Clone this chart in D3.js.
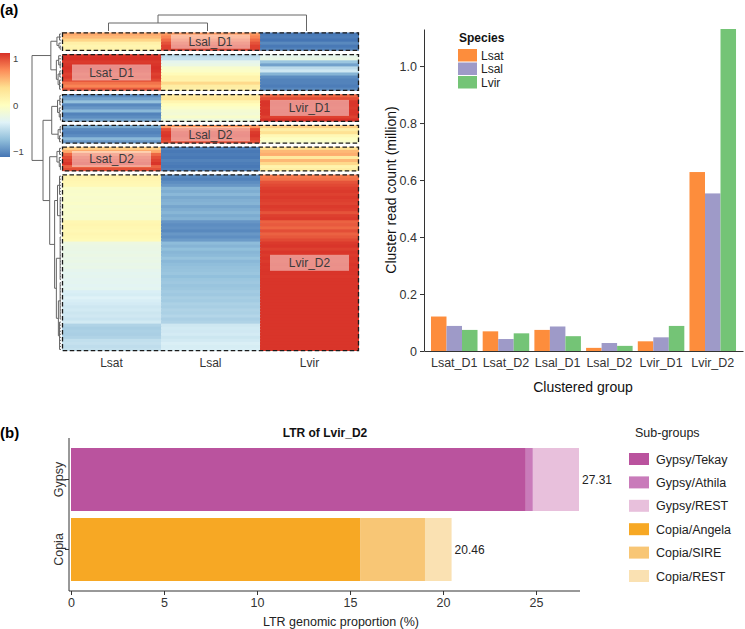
<!DOCTYPE html>
<html><head><meta charset="utf-8">
<script src="https://cdn.jsdelivr.net/npm/d3@7"></script>
<style>body{margin:0;background:#fff;} svg{font-family:"Liberation Sans",Arial,Helvetica,sans-serif;}</style>
</head><body><svg id="c" width="745" height="629"></svg>
<script>
// ---------------- DATA ----------------
const species = ["Lsat", "Lsal", "Lvir"];
const clusterNames = ["Lsal_D1", "Lsat_D1", "Lvir_D1", "Lsal_D2", "Lsat_D2", "Lvir_D2"];
const clusterLabelColumn = ["Lsal", "Lsat", "Lvir", "Lsal", "Lsat", "Lvir"];
const heatTicks = [1, 0, -1];

// z-scored rows, columns = [Lsat, Lsal, Lvir]
const rowsLsalD1 = [
  [0.62, 0.70, -1.10], [0.55, 0.78, -1.08], [0.42, 0.88, -1.12],
  [0.18, 0.98, -1.02], [0.12, 1.05, -1.10], [0.15, 1.05, -1.05]
];
const rowsLsatD1 = [
  [1.10, -0.55, -0.30], [1.12, -0.50, -0.25], [1.08, -0.30, -0.70], [1.10, -0.25, -0.90],
  [1.12, -0.10, -0.55], [1.10, -0.05, -0.45], [1.05, 0.05, -0.80], [1.08, 0.15, -1.00],
  [1.02, 0.15, -1.05], [0.85, 0.40, -1.05], [0.78, 0.22, -1.08], [0.95, 0.18, -1.02]
];
const rowsLvirD1 = [
  [-1.00, 0.25, 0.90], [-0.90, 0.30, 1.00], [-0.72, 0.12, 1.10], [-1.02, 0.02, 1.10],
  [-0.95, -0.05, 1.08], [-0.78, -0.12, 1.10], [-1.05, -0.15, 1.10], [-1.00, -0.08, 1.05],
  [-0.88, -0.20, 1.12]
];
const rowsLsalD2 = [
  [-0.85, 0.70, 0.45], [-1.02, 1.00, 0.20], [-1.05, 1.08, 0.35],
  [-1.00, 1.10, 0.08], [-0.78, 1.05, -0.02], [-0.95, 1.00, -0.08]
];
const rowsLsatD2 = [
  [0.45, -1.05, 0.35], [0.62, -1.10, 0.55], [0.90, -1.08, 0.60], [1.00, -1.10, 0.25],
  [1.05, -1.05, 0.55], [1.10, -1.08, 0.40], [0.92, -1.10, 0.15], [1.00, -1.06, 0.22]
];
const rowsLvirD2 = [
  [0.14, -1.02, 0.82], [0.12, -1.06, 0.86], [0.10, -1.00, 0.98], [0.08, -0.95, 1.02],
  [-0.06, -0.80, 1.06], [-0.08, -0.84, 1.08], [-0.07, -0.78, 1.05], [-0.09, -0.86, 1.08],
  [-0.08, -0.82, 1.06], [-0.06, -0.80, 1.04], [-0.10, -0.88, 1.08], [-0.08, -0.83, 1.06],
  [-0.07, -0.79, 0.98], [-0.09, -0.85, 1.06], [-0.08, -0.81, 1.08],
  [0.10, -0.96, 0.92], [0.12, -1.00, 0.95], [0.10, -0.98, 0.90], [0.08, -1.02, 1.00],
  [0.11, -0.95, 0.92], [0.09, -0.99, 0.96], [0.06, -0.93, 1.02],
  [-0.22, -0.76, 1.08], [-0.24, -0.80, 1.10], [-0.25, -0.74, 1.06], [-0.26, -0.79, 1.10],
  [-0.24, -0.77, 1.08], [-0.27, -0.72, 1.10], [-0.25, -0.78, 1.08], [-0.28, -0.75, 1.10],
  [-0.26, -0.73, 1.09],
  [-0.30, -0.72, 1.10], [-0.32, -0.70, 1.10], [-0.31, -0.74, 1.09], [-0.33, -0.70, 1.10],
  [-0.32, -0.68, 1.10], [-0.34, -0.71, 1.10], [-0.32, -0.69, 1.10],
  [-0.40, -0.66, 1.10], [-0.42, -0.68, 1.10], [-0.38, -0.64, 1.10], [-0.41, -0.66, 1.10],
  [-0.43, -0.62, 1.10],
  [-0.46, -0.64, 1.10], [-0.44, -0.60, 1.10], [-0.47, -0.62, 1.10], [-0.45, -0.58, 1.10],
  [-0.48, -0.63, 1.10], [-0.44, -0.60, 1.10],
  [-0.60, -0.46, 1.10], [-0.64, -0.44, 1.10], [-0.62, -0.45, 1.10], [-0.63, -0.43, 1.10],
  [-0.60, -0.47, 1.10],
  [-0.52, -0.44, 1.10], [-0.50, -0.40, 1.10], [-0.53, -0.42, 1.10], [-0.51, -0.41, 1.10]
];
const clusterRows = [rowsLsalD1, rowsLsatD1, rowsLvirD1, rowsLsalD2, rowsLsatD2, rowsLvirD2];

// row dendrogram (leaves = row index, h = merge height)
const rowTree = {h: 10, c: [
  {h: 3.5, c: [
    {h: 1.4, c: [{h: 0.5, c: [0, 1, 2]}, {h: 0.7, c: [3, {h: 0.3, c: [4, 5]}]}]},
    {h: 1.6, c: [{h: 0.8, c: [6, 7, {h: 0.3, c: [8, 9, 10]}]}, {h: 1.0, c: [{h: 0.4, c: [11, 12, 13]}, {h: 0.5, c: [14, 15, 16, 17]}]}]}
  ]},
  {h: 6.2, c: [
    {h: 3.2, c: [
      {h: 1.2, c: [{h: 0.4, c: [18, 19, 20, 21]}, {h: 0.6, c: [22, 23, {h: 0.2, c: [24, 25, 26]}]}]},
      {h: 1.0, c: [{h: 0.3, c: [27, 28, 29]}, {h: 0.5, c: [30, 31, 32]}]}
    ]},
    {h: 3.9, c: [
      {h: 1.4, c: [{h: 0.5, c: [33, 34, 35]}, {h: 0.6, c: [36, 37, {h: 0.2, c: [38, 39, 40]}]}]},
      {h: 2.2, c: [
        {h: 1.2, c: [{h: 0.5, c: [41, 42, 43, 44, 45, 46, 47]},
                     {h: 0.3, c: [48, 49, 50, 51, 52, 53, 54, 55, 56, 57, 58, 59, 60]}]},
        {h: 1.6, c: [{h: 0.3, c: [61, 62, 63, 64, 65, 66, 67, 68, 69, 70, 71, 72, 73, 74, 75]},
                     {h: 0.9, c: [{h: 0.3, c: [76, 77, 78, 79, 80, 81, 82, 83, 84, 85, 86, 87, 88]},
                                  {h: 0.5, c: [89, 90, 91, 92, 93, 94, 95, 96, 97, 98]}]}]}
      ]}
    ]}
  ]}
]};
const colTree = {h: 2, c: [{h: 1, c: [0, 1]}, 2]};

// bar chart
const groups = ["Lsat_D1", "Lsat_D2", "Lsal_D1", "Lsal_D2", "Lvir_D1", "Lvir_D2"];
const countLsat = [0.121, 0.069, 0.074, 0.011, 0.034, 0.628];
const countLsal = [0.088, 0.042, 0.086, 0.028, 0.048, 0.553];
const countLvir = [0.074, 0.062, 0.052, 0.018, 0.088, 1.130];
const countTicks = [0, 0.2, 0.4, 0.6, 0.8, 1.0];
const speciesColors = ["#FD8D3C", "#9E9AC8", "#74C476"];

// LTR chart
const ltrFamilies = ["Gypsy", "Copia"];
const subGroups = ["Gypsy/Tekay", "Gypsy/Athila", "Gypsy/REST", "Copia/Angela", "Copia/SIRE", "Copia/REST"];
const subGroupFamily = ["Gypsy", "Gypsy", "Gypsy", "Copia", "Copia", "Copia"];
const subGroupValues = [24.45, 0.38, 2.48, 15.54, 3.49, 1.43];
const subGroupColors = ["#BA539E", "#C97BBA", "#E8C0DC", "#F7A824", "#F8C675", "#FAE1B2"];
const ltrTicks = [0, 5, 10, 15, 20, 25];

// ---------------- DRAW ----------------
const svg = d3.select("#c");
const txt = "#333333";

svg.append("text").attr("x", 0).attr("y", 15).attr("font-size", 15).attr("font-weight", "bold").text("(a)");
svg.append("text").attr("x", 0).attr("y", 438).attr("font-size", 15).attr("font-weight", "bold").text("(b)");

// ---- heatmap ----
const heatPalette = ["#4575B4", "#91BFDB", "#E0F3F8", "#FFFFBF", "#FEE090", "#FC8D59", "#D73027"];
const heatMin = -1.12, heatMax = 1.12;
const heatColor = d3.scaleLinear()
  .domain(heatPalette.map((_, i) => heatMin + i * (heatMax - heatMin) / (heatPalette.length - 1)))
  .range(heatPalette);

const hmX = d3.scaleBand().domain(species).range([62, 359]);
const nRows = d3.sum(clusterRows, r => r.length);
const gap = 3.5;
const rowY = d3.scaleLinear().domain([0, nRows]).range([32.5, 351 - gap * (clusterRows.length - 1)]);
const rh = rowY(1) - rowY(0);

const rowInfo = [];
let idx = 0;
clusterRows.forEach((rows, ci) => {
  rows.forEach((vals, k) => { rowInfo.push({i: idx, ci, vals, last: k === rows.length - 1}); idx++; });
});
const yOfRow = r => rowY(r.i) + gap * r.ci;

const hm = svg.append("g");
rowInfo.forEach(r => {
  species.forEach((sp, j) => {
    hm.append("rect")
      .attr("x", hmX(sp)).attr("y", yOfRow(r))
      .attr("width", hmX.bandwidth() + (j < 2 ? 0.8 : 0)).attr("height", rh + (r.last ? 0 : 1))
      .attr("fill", heatColor(r.vals[j]));
  });
});

let start = 0;
clusterRows.forEach((rows, ci) => {
  const y0 = rowY(start) + gap * ci;
  const y1 = rowY(start + rows.length) + gap * ci;
  start += rows.length;
  const cy = (y0 + y1) / 2;
  const col = clusterLabelColumn[ci];
  const bh = Math.min(16, y1 - y0 - 4);
  hm.append("rect").attr("x", hmX(col) + 10).attr("y", cy - bh / 2)
    .attr("width", hmX.bandwidth() - 20).attr("height", bh)
    .attr("fill", "#ffffff").attr("fill-opacity", 0.45);
  hm.append("text").attr("x", hmX(col) + hmX.bandwidth() / 2).attr("y", cy + 4.3)
    .attr("text-anchor", "middle").attr("font-size", 12).attr("fill", "#3a3a3a")
    .text(clusterNames[ci]);
  hm.append("rect").attr("x", 62.5).attr("y", y0 + 0.3)
    .attr("width", 296).attr("height", y1 - y0 - 0.6)
    .attr("fill", "none").attr("stroke", "#1a1a1a").attr("stroke-width", 1.3)
    .attr("stroke-dasharray", "4.5 2.5");
});

species.forEach(sp => {
  svg.append("text").attr("x", hmX(sp) + hmX.bandwidth() / 2).attr("y", 367)
    .attr("text-anchor", "middle").attr("font-size", 12).attr("fill", txt).text(sp);
});

const dendX = d3.scaleLinear().domain([0, 10]).range([61, 32]);
const dend = svg.append("g").attr("stroke", "#666").attr("stroke-width", 1).attr("fill", "none");
function drawRow(node) {
  if (typeof node === "number") return {y: yOfRow(rowInfo[node]) + rh / 2, h: 0};
  const kids = node.c.map(drawRow);
  const ys = kids.map(k => k.y);
  const x = dendX(node.h);
  dend.append("line").attr("x1", x).attr("x2", x).attr("y1", d3.min(ys)).attr("y2", d3.max(ys));
  kids.forEach(k => dend.append("line").attr("x1", x).attr("x2", dendX(k.h)).attr("y1", k.y).attr("y2", k.y));
  return {y: (d3.min(ys) + d3.max(ys)) / 2, h: node.h};
}
drawRow(rowTree);

const dendY = d3.scaleLinear().domain([0, 2]).range([31, 15]);
function drawCol(node) {
  if (typeof node === "number") return {x: hmX(species[node]) + hmX.bandwidth() / 2 - 3, h: 0};
  const kids = node.c.map(drawCol);
  const xs = kids.map(k => k.x);
  const y = dendY(node.h);
  dend.append("line").attr("y1", y).attr("y2", y).attr("x1", d3.min(xs)).attr("x2", d3.max(xs));
  kids.forEach(k => dend.append("line").attr("y1", y).attr("y2", dendY(k.h)).attr("x1", k.x).attr("x2", k.x));
  return {x: (d3.min(xs) + d3.max(xs)) / 2, h: node.h};
}
drawCol(colTree);

const legY = d3.scaleLinear().domain([heatMin, heatMax]).range([157, 53]);
const defs = svg.append("defs");
const grad = defs.append("linearGradient").attr("id", "hg").attr("x1", 0).attr("x2", 0).attr("y1", 1).attr("y2", 0);
heatColor.domain().forEach(v => {
  grad.append("stop").attr("offset", (v - heatMin) / (heatMax - heatMin)).attr("stop-color", heatColor(v));
});
svg.append("rect").attr("x", 0).attr("y", legY(heatMax)).attr("width", 10)
  .attr("height", legY(heatMin) - legY(heatMax)).attr("fill", "url(#hg)");
heatTicks.forEach(t => {
  svg.append("text").attr("x", 13).attr("y", legY(t) + 3.5).attr("font-size", 9.5)
    .attr("fill", "#444").text(t === -1 ? "\u22121" : t);
});

// ---- bar chart ----
const gx = d3.scaleBand().domain(groups).range([424, 743]).paddingInner(0.1).paddingOuter(0.135);
const gsub = d3.scaleBand().domain(species).range([0, gx.bandwidth()]);
const gy = d3.scaleLinear().domain([0, 1.13]).range([351, 29]);
const seriesCounts = [countLsat, countLsal, countLvir];
const bars = svg.append("g");
groups.forEach((g, gi) => {
  species.forEach((sp, si) => {
    const v = seriesCounts[si][gi];
    bars.append("rect").attr("x", gx(g) + gsub(sp)).attr("y", gy(v))
      .attr("width", gsub.bandwidth()).attr("height", gy(0) - gy(v))
      .attr("fill", speciesColors[si]);
  });
});
const yAx = svg.append("g").attr("transform", "translate(424,0)")
  .call(d3.axisLeft(gy).tickValues(countTicks).tickSize(4).tickSizeOuter(0)
    .tickFormat(d => d === 0 ? "0" : d3.format(".1f")(d)));
const xAx = svg.append("g").attr("transform", "translate(0,351)")
  .call(d3.axisBottom(gx).tickSize(0).tickSizeOuter(0).tickPadding(7));
[yAx, xAx].forEach(a => {
  a.selectAll("text").attr("font-size", 12.5).attr("fill", txt).attr("font-family", null);
  a.selectAll("line,path").attr("stroke", "#333");
});
svg.append("text").attr("transform", "translate(396,190) rotate(-90)").attr("text-anchor", "middle")
  .attr("font-size", 14).attr("fill", "#111").text("Cluster read count (million)");
svg.append("text").attr("x", 583).attr("y", 392).attr("text-anchor", "middle")
  .attr("font-size", 14).attr("fill", "#111").text("Clustered group");
svg.append("text").attr("x", 459).attr("y", 42).attr("font-size", 12).attr("font-weight", "bold")
  .attr("fill", "#111").text("Species");
species.forEach((sp, i) => {
  svg.append("rect").attr("x", 458).attr("y", 49 + i * 13.5).attr("width", 19).attr("height", 12.5)
    .attr("fill", speciesColors[i]);
  svg.append("text").attr("x", 481).attr("y", 49 + i * 13.5 + 10.5).attr("font-size", 12)
    .attr("fill", "#222").text(sp);
});

// ---- LTR chart ----
const lx = d3.scaleLinear().domain([0, 27.31]).range([71, 579]);
const ly = d3.scaleBand().domain(ltrFamilies).range([438, 591]).paddingInner(0.1).paddingOuter(0.143);
const stackRows = ltrFamilies.map(f => {
  const o = {family: f};
  subGroups.forEach((s, i) => { o[s] = subGroupFamily[i] === f ? subGroupValues[i] : 0; });
  return o;
});
const stacked = d3.stack().keys(subGroups)(stackRows);
const lg = svg.append("g");
stacked.forEach((layer, li) => {
  layer.forEach(seg => {
    if (seg[1] - seg[0] <= 0) return;
    lg.append("rect").attr("x", lx(seg[0])).attr("y", ly(seg.data.family))
      .attr("width", lx(seg[1]) - lx(seg[0])).attr("height", ly.bandwidth())
      .attr("fill", subGroupColors[li]);
  });
});
ltrFamilies.forEach(f => {
  const tot = d3.sum(subGroupValues.filter((v, i) => subGroupFamily[i] === f));
  svg.append("text").attr("x", lx(tot) + 3).attr("y", ly(f) + ly.bandwidth() / 2 + 4.3)
    .attr("font-size", 12).attr("fill", "#222").text(d3.format(".2f")(tot));
});
const lxAx = svg.append("g").attr("transform", "translate(0,591)")
  .call(d3.axisBottom(lx).tickValues(ltrTicks).tickSize(4).tickSizeOuter(0).tickPadding(3));
lxAx.select(".domain").remove();
const lyAx = svg.append("g").attr("transform", "translate(69,0)")
  .call(d3.axisLeft(ly).tickSize(4).tickSizeOuter(0));
lyAx.select(".domain").remove();
lyAx.selectAll("text").attr("transform", "translate(-3,0) rotate(-90)").attr("text-anchor", "middle")
  .attr("x", 0).attr("dy", "-0.25em");
[lxAx, lyAx].forEach(a => {
  a.selectAll("text").attr("font-size", 12.5).attr("fill", txt).attr("font-family", null);
  a.selectAll("line").attr("stroke", "#333");
});
svg.append("line").attr("x1", 69).attr("x2", 580).attr("y1", 591).attr("y2", 591).attr("stroke", "#333");
svg.append("line").attr("x1", 69).attr("x2", 69).attr("y1", 438).attr("y2", 591).attr("stroke", "#333");
svg.append("text").attr("x", 325).attr("y", 437).attr("text-anchor", "middle").attr("font-size", 12)
  .attr("font-weight", "bold").attr("fill", "#111").text("LTR of Lvir_D2");
svg.append("text").attr("x", 341).attr("y", 626).attr("text-anchor", "middle").attr("font-size", 12.5)
  .attr("fill", "#222").text("LTR genomic proportion (%)");
svg.append("text").attr("x", 635).attr("y", 437).attr("font-size", 12.5).attr("fill", "#222").text("Sub-groups");
subGroups.forEach((s, i) => {
  const y = 453 + i * 23.4;
  svg.append("rect").attr("x", 629).attr("y", y).attr("width", 20).attr("height", 12).attr("fill", subGroupColors[i]);
  svg.append("text").attr("x", 656).attr("y", y + 10.5).attr("font-size", 12.5).attr("fill", "#222").text(s);
});
</script>
</body></html>
